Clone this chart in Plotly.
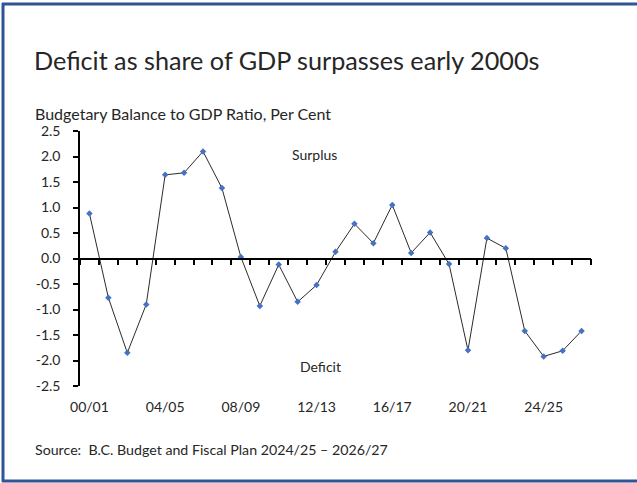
import plotly.graph_objects as go

# Fiscal years and budgetary balance as a share of GDP (per cent)
years = ["00/01", "01/02", "02/03", "03/04", "04/05", "05/06", "06/07", "07/08",
         "08/09", "09/10", "10/11", "11/12", "12/13", "13/14", "14/15", "15/16",
         "16/17", "17/18", "18/19", "19/20", "20/21", "21/22", "22/23", "23/24",
         "24/25", "25/26", "26/27"]
balance = [0.88, -0.77, -1.85, -0.90, 1.64, 1.68, 2.10, 1.38, 0.03, -0.93,
           -0.12, -0.85, -0.52, 0.13, 0.68, 0.30, 1.05, 0.11, 0.51, -0.11,
           -1.80, 0.40, 0.20, -1.42, -1.92, -1.81, -1.42]
label_years = years[::4]
y_ticks = [2.5, 2.0, 1.5, 1.0, 0.5, 0.0, -0.5, -1.0, -1.5, -2.0, -2.5]
y_tick_text = ["2.5", "2.0", "1.5", "1.0", "0.5", "0.0", "-0.5", "-1.0", "-1.5", "-2.0", "-2.5"]

W, H = 637, 483
L, R, T, B = 80, 46, 131, 97
FONT = "Lato"
TXT = "#262626"
BORDER = "#2F5597"


def px(x):
    return (x - L) / (W - L - R)


def py(y):
    return (H - B - y) / (H - T - B)


fig = go.Figure()
fig.add_trace(go.Scatter(
    x=years, y=balance, mode="lines+markers",
    line=dict(color="#2b2b2b", width=1),
    marker=dict(symbol="diamond", size=5, color="#4472C4"),
    showlegend=False, hoverinfo="x+y",
))
# carrier trace for the bottom label axis
fig.add_trace(go.Scatter(
    x=years, y=balance, xaxis="x2", mode="markers",
    marker=dict(opacity=0), showlegend=False, hoverinfo="skip",
))

fig.update_layout(
    width=W, height=H,
    margin=dict(l=L, r=R, t=T, b=B, pad=0),
    paper_bgcolor="white", plot_bgcolor="white",
    font=dict(family=FONT, color=TXT),
    xaxis=dict(
        type="category", categoryorder="array", categoryarray=years,
        range=[-0.5, len(years) - 0.5],
        anchor="free", position=0.5,
        showline=True, linecolor="#000000", linewidth=1.5,
        ticks="outside", tickson="boundaries", ticklen=6, tickwidth=1.5,
        tickcolor="#000000", dtick=1,
        showticklabels=False, showgrid=False, zeroline=False,
    ),
    xaxis2=dict(
        type="category", categoryorder="array", categoryarray=years,
        range=[-0.5, len(years) - 0.5],
        overlaying="x", anchor="y", side="bottom",
        tickmode="array", tickvals=label_years, ticktext=label_years,
        showline=False, ticks="", showgrid=False, zeroline=False,
        tickfont=dict(size=14, color=TXT, family=FONT),
        ticklabelstandoff=11,
    ),
    yaxis=dict(
        range=[-2.5, 2.5], tickmode="array", tickvals=y_ticks, ticktext=y_tick_text,
        showline=True, linecolor="#000000", linewidth=1.5,
        ticks="outside", ticklen=5, tickwidth=1.5, tickcolor="#000000",
        showgrid=False, zeroline=False,
        tickfont=dict(size=14, color=TXT, family=FONT),
        ticklabelstandoff=10,
    ),
)

annotations = [
    dict(text="Deficit as share of GDP surpasses early 2000s", x=px(32), y=py(60),
         xanchor="left", yanchor="middle", font=dict(size=25.2, color=TXT)),
    dict(text="Budgetary Balance to GDP Ratio, Per Cent", x=px(33), y=py(113),
         xanchor="left", yanchor="middle", font=dict(size=16, color=TXT)),
    dict(text="Surplus", x=px(314), y=py(154), xanchor="center", yanchor="middle",
         font=dict(size=14, color=TXT)),
    dict(text="Deficit", x=px(320), y=py(366), xanchor="center", yanchor="middle",
         font=dict(size=14, color=TXT)),
    dict(text="Source:  B.C. Budget and Fiscal Plan 2024/25 \u2013 2026/27", x=px(33), y=py(449),
         xanchor="left", yanchor="middle", font=dict(size=14.2, color=TXT)),
]
for a in annotations:
    a.update(xref="paper", yref="paper", showarrow=False)
fig.update_layout(annotations=annotations)

# frame around the panel (top, left and bottom edges)
for x0, y0, x1, y1 in [(2, 4, W, 4), (3, 3, 3, 482), (2, 481, W, 481)]:
    fig.add_shape(type="line", xref="paper", yref="paper",
                  x0=px(x0), y0=py(y0), x1=px(x1), y1=py(y1),
                  line=dict(color=BORDER, width=3), layer="above")

fig.write_html("out.html")
